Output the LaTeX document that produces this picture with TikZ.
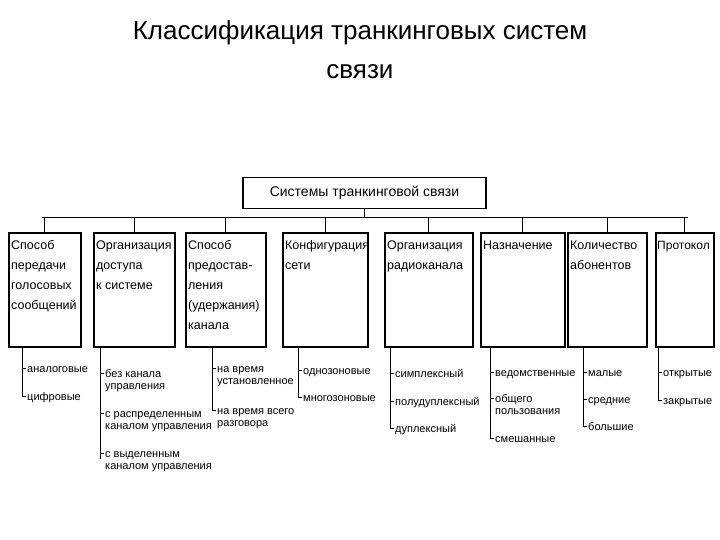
\documentclass[tikz,border=0pt]{standalone}
\usepackage{fontspec}
\setmainfont{Liberation Sans}
\begin{document}
\begin{tikzpicture}[x=1pt,y=-1pt,
 box/.style={draw,line width=1.6pt,anchor=north west,inner sep=0pt},
 btext/.style={anchor=north west,align=left,inner sep=0pt,font=\fontsize{12.5}{20}\selectfont},
 item/.style={anchor=north west,align=left,inner sep=0pt,font=\fontsize{11}{12.5}\selectfont},
 ln/.style={line width=0.9pt}]
\useasboundingbox (0,0) rectangle (720,540);
\node[font=\fontsize{26}{39}\selectfont,align=center] (title) at (360,50) {Классификация транкинговых систем\\связи};
\node[draw,line width=1.6pt,minimum width=243pt,minimum height=31pt,font=\fontsize{14}{16}\selectfont] (top) at (364.5,193) {Системы транкинговой связи};
\coordinate (hl) at (42,217); \coordinate (hr) at (688,217);
\draw[ln] (top.south) -- (364.5,217);
\draw[ln] (hl) -- (hr);
\def\mkbox#1#2#3#4{\node[box,minimum width=#3pt,minimum height=114pt] (#1) at (#2,232) {};
 \node[btext] (#1t) at ([xshift=3pt,yshift=-5pt]#1.north west) {\rule{0pt}{12pt}#4};
 \draw[ln] (#1.north) -- (#1.north |- hl);}
\mkbox{b1}{8}{72}{Способ\\передачи\\голосовых\\сообщений}
\mkbox{b2}{93}{81}{Организация\\доступа\\к системе}
\mkbox{b3}{185}{80}{Способ\\предостав-\\ления\\(удержания)\\канала}
\mkbox{b4}{282}{85}{Конфигурация\\сети}
\mkbox{b5}{384}{88}{Организация\\радиоканала}
\mkbox{b6}{480}{84}{Назначение}
\mkbox{b7}{567}{79}{Количество\\абонентов}
\node[box,minimum width=58pt,minimum height=114pt] (b8) at (655,232) {};
\node[btext,font=\fontsize{12}{16}\selectfont] (b8t) at ([xshift=2pt,yshift=-5pt]b8.north west) {\rule{0pt}{12pt}Протокол};
\draw[ln] (b8.north) -- (b8.north |- hl);
\def\tree#1#2#3{\coordinate (t#1) at (#2,#3); \draw[ln] (#2,346) -- (t#1);}
\tree{1}{22}{396}\tree{2}{100}{459}\tree{3}{212}{410}\tree{4}{298}{397}
\tree{5}{390}{428}\tree{6}{490}{438}\tree{7}{583}{426}\tree{8}{658}{400}
\def\it#1#2#3#4{\draw[ln] (#2,#3) -- ++(4,0) coordinate (c#1); \node[item] (i#1) at ([xshift=1pt,yshift=6pt]c#1) {\rule{0pt}{10pt}#4};}
\it{a1}{22}{368}{аналоговые}
\it{a2}{22}{396}{цифровые}
\it{b1}{100}{373}{без канала\\управления}
\it{b2}{100}{413}{с распределенным\\каналом управления}
\it{b3}{100}{453}{с выделенным\\каналом управления}
\it{c1}{212}{368}{на время\\установленное}
\it{c2}{212}{410}{на время всего\\разговора}
\it{d1}{298}{370}{однозоновые}
\it{d2}{298}{397}{многозоновые}
\it{e1}{390}{373}{симплексный}
\it{e2}{390}{401}{полудуплексный}
\it{e3}{390}{428}{дуплексный}
\it{f1}{490}{372}{ведомственные}
\it{f2}{490}{398}{общего\\пользования}
\it{f3}{490}{438}{смешанные}
\it{g1}{583}{372}{малые}
\it{g2}{583}{399}{средние}
\it{g3}{583}{426}{большие}
\it{h1}{658}{372}{открытые}
\it{h2}{658}{400}{закрытые}
\end{tikzpicture}
\end{document}
